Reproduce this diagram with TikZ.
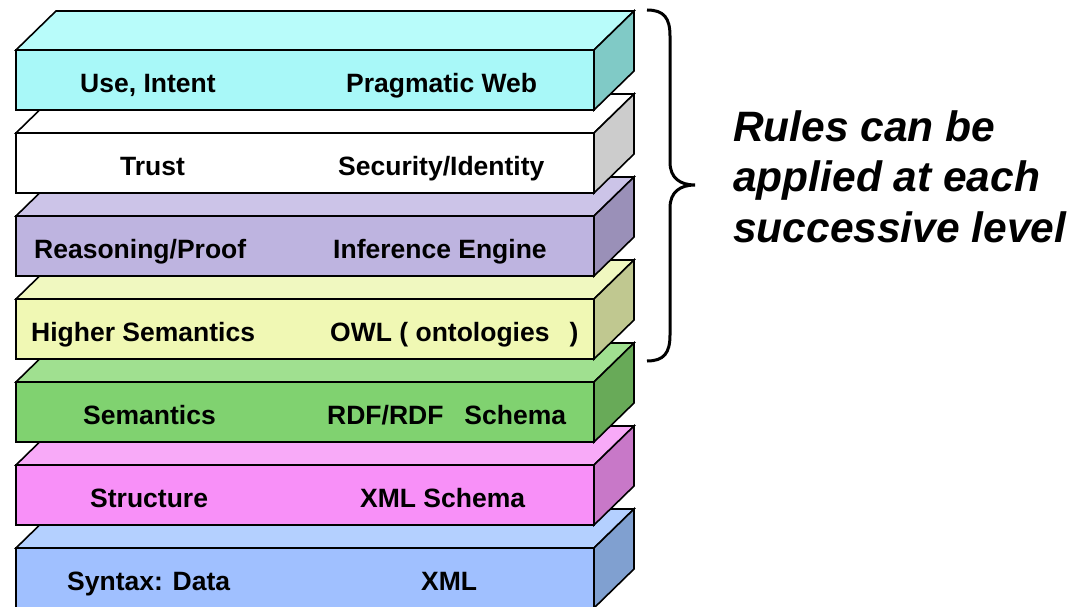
\documentclass[tikz,border=0pt]{standalone}
\usepackage{fontspec}
\setmainfont{Liberation Sans}
\definecolor{cyF}{RGB}{168,248,248}
\definecolor{cyT}{RGB}{184,252,250}
\definecolor{cyS}{RGB}{128,202,198}
\definecolor{whF}{RGB}{255,255,255}
\definecolor{whT}{RGB}{255,255,255}
\definecolor{whS}{RGB}{204,204,204}
\definecolor{laF}{RGB}{190,180,224}
\definecolor{laT}{RGB}{204,196,232}
\definecolor{laS}{RGB}{154,144,184}
\definecolor{yeF}{RGB}{240,248,180}
\definecolor{yeT}{RGB}{240,248,192}
\definecolor{yeS}{RGB}{192,200,144}
\definecolor{grF}{RGB}{128,210,112}
\definecolor{grT}{RGB}{160,224,144}
\definecolor{grS}{RGB}{104,170,88}
\definecolor{piF}{RGB}{248,144,248}
\definecolor{piT}{RGB}{248,170,248}
\definecolor{piS}{RGB}{200,120,200}
\definecolor{blF}{RGB}{160,192,255}
\definecolor{blT}{RGB}{180,208,255}
\definecolor{blS}{RGB}{128,160,208}
\tikzset{
  face/.style={draw=black, line width=1.6pt},
  lbl/.style={inner sep=0pt, anchor=base west, font=\fontsize{26.5}{30}\selectfont\bfseries},
  rules/.style={inner sep=0pt, anchor=base west, font=\fontsize{42.5}{50}\selectfont\bfseries\itshape},
  bracestyle/.style={draw=black, line width=3pt}
}
% #1 name, #2 front top y, #3 colour prefix, #4 left text, #5 left x, #6 right text, #7 right x
\newcommand\drawslab[7]{%
  \fill[#3T, face] (16,#2) -- (56,#2-39) -- (634,#2-39) -- (594,#2) -- cycle;
  \fill[#3S, face] (594,#2) -- (634,#2-39) -- (634,#2+21) -- (594,#2+60) -- cycle;
  \fill[#3F, face] (16,#2) rectangle (594,#2+60);
  \node[lbl] (#1l) at (#5,#2+42.5) {#4};
  \node[lbl] (#1r) at (#7,#2+42.5) {#6};
}
\begin{document}
\begin{tikzpicture}[x=1pt,y=-1pt]
\useasboundingbox (0,0) rectangle (1069,607);
\drawslab{syntax}{548}{bl}{Syntax: Data}{67}{XML}{421}
\drawslab{structure}{465}{pi}{Structure}{90}{XML Schema}{360}
\drawslab{semantics}{382}{gr}{Semantics}{83}{RDF/RDF\hspace{21pt}Schema}{327}
\drawslab{higher}{299}{ye}{Higher Semantics}{31}{OWL ( ontologies\hspace{20pt})}{330}
\drawslab{reasoning}{216}{la}{Reasoning/Proof}{34}{Inference Engine}{333}
\drawslab{trust}{133}{wh}{Trust}{120}{Security/Identity}{338}
\drawslab{use}{50}{cy}{Use, Intent}{80}{Pragmatic Web}{346}
% brace
\coordinate (bt) at (647,10);
\coordinate (bm) at (695,185);
\coordinate (bb) at (647,361);
\draw[bracestyle] (bt) .. controls (664,10) and (670,18) .. (670,36) -- (670,162)
  .. controls (670,178) and (680,185) .. (bm)
  .. controls (680,185) and (670,192) .. (670,208) -- (670,335)
  .. controls (670,353) and (664,361) .. (bb);
\node[rules] (r1) at (733,142) {Rules can be};
\node[rules] (r2) at (733,192) {applied at each};
\node[rules] (r3) at (733,242) {successive level};
\end{tikzpicture}
\end{document}
